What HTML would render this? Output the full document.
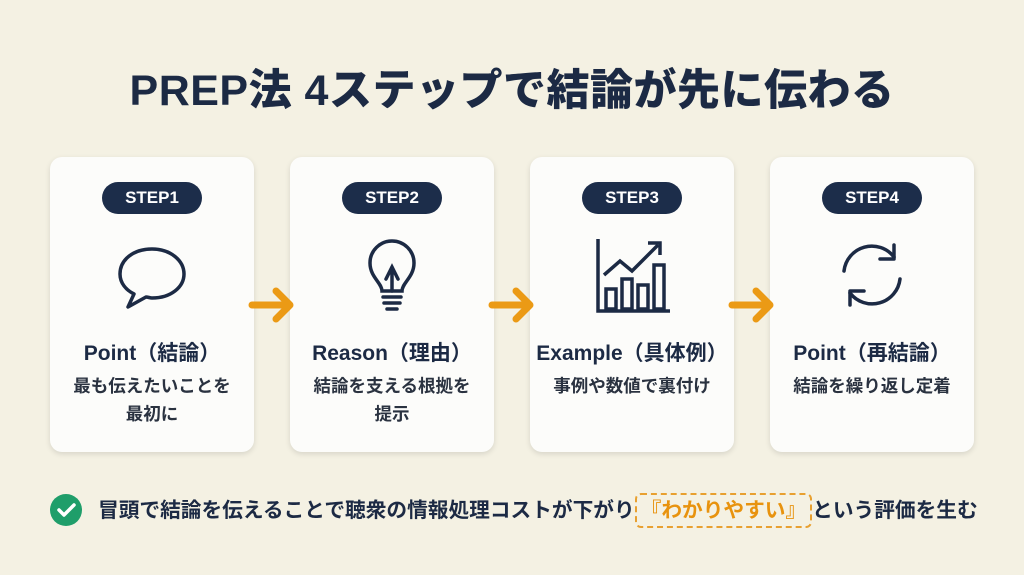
<!DOCTYPE html>
<html><head><meta charset="utf-8"><style>
body{margin:0;width:1024px;height:575px;background:#f4f1e3;font-family:"Liberation Sans","Noto Sans CJK JP",sans-serif;color:#1c2a44;position:relative;overflow:hidden}
.t{position:absolute;top:56px;left:0;width:1024px;text-align:center;font-size:43px;font-weight:900;letter-spacing:0.5px}
.card{position:absolute;top:157px;width:204px;height:295px;background:#fcfcfa;border-radius:12px;box-shadow:0 2px 6px rgba(0,0,0,.12)}
.b{position:absolute;top:25px;left:52px;width:100px;height:32px;border-radius:16px;background:#1c2d4a;color:#fff;font-weight:700;font-size:17px;line-height:32px;text-align:center}
.ic{position:absolute;top:78px;left:62px;width:80px;height:80px}
.h{position:absolute;top:180px;left:0;width:204px;text-align:center;font-size:21px;font-weight:700;white-space:nowrap}
.d{position:absolute;top:215px;left:0;width:204px;text-align:center;font-size:17.5px;font-weight:700;line-height:28px;color:#2a3240;white-space:nowrap}
.ar{position:absolute;top:285px;width:50px;height:40px}
.bot{position:absolute;top:493px;left:98px;font-size:20.7px;font-weight:700;white-space:nowrap}
.hl{color:#e8930f;border:2px dashed #e8a030;border-radius:6px;padding:4px 4px}
</style></head><body>
<div class="t">PREP法 4ステップで結論が先に伝わる</div>

<div class="card" style="left:50px"><div class="b">STEP1</div>
<svg class="ic" viewBox="0 0 80 80"><path d="M40 14C21 14 8 25 8 39c0 9 6 16 14 20l-6 13 18-10c2 0 4 1 6 1 19 0 32-11 32-24S59 14 40 14z" fill="none" stroke="#1c2a44" stroke-width="3.5" stroke-linejoin="round"/></svg>
<div class="h">Point（結論）</div><div class="d">最も伝えたいことを<br>最初に</div></div>

<div class="card" style="left:290px"><div class="b">STEP2</div>
<svg class="ic" viewBox="0 0 80 80"><path d="M30 56c0-8-12-14-12-28a22 22 0 0144 0c0 14-12 20-12 28z" fill="none" stroke="#1c2a44" stroke-width="3.5"/><path d="M31 62h18M32 68h16M35 74h10M34 44l6-12 6 12M40 32v24" fill="none" stroke="#1c2a44" stroke-width="3.5" stroke-linecap="round"/></svg>
<div class="h">Reason（理由）</div><div class="d">結論を支える根拠を<br>提示</div></div>

<div class="card" style="left:530px"><div class="b">STEP3</div>
<svg class="ic" viewBox="0 0 80 80"><path d="M6 4v72h72" fill="none" stroke="#1c2a44" stroke-width="3.5"/><g fill="none" stroke="#1c2a44" stroke-width="3.5"><rect x="14" y="54" width="10" height="20"/><rect x="30" y="44" width="10" height="30"/><rect x="46" y="50" width="10" height="24"/><rect x="62" y="30" width="10" height="44"/><path d="M12 40l16-14 12 10 26-26M56 8h12v12"/></g></svg>
<div class="h">Example（具体例）</div><div class="d">事例や数値で裏付け</div></div>

<div class="card" style="left:770px"><div class="b">STEP4</div>
<svg class="ic" viewBox="0 0 80 80"><g fill="none" stroke="#1c2a44" stroke-width="3.5" stroke-linecap="round" stroke-linejoin="round"><path d="M12 36A28 28 0 0162 22"/><path d="M62 10v14H48"/><path d="M68 44A28 28 0 0118 58"/><path d="M18 70V56h14"/></g></svg>
<div class="h">Point（再結論）</div><div class="d">結論を繰り返し定着</div></div>

<svg class="ar" style="left:248px" viewBox="0 0 50 40"><path d="M4 20h38M28 6l14 14-14 14" fill="none" stroke="#eb9a15" stroke-width="7" stroke-linecap="round" stroke-linejoin="round"/></svg>
<svg class="ar" style="left:488px" viewBox="0 0 50 40"><path d="M4 20h38M28 6l14 14-14 14" fill="none" stroke="#eb9a15" stroke-width="7" stroke-linecap="round" stroke-linejoin="round"/></svg>
<svg class="ar" style="left:728px" viewBox="0 0 50 40"><path d="M4 20h38M28 6l14 14-14 14" fill="none" stroke="#eb9a15" stroke-width="7" stroke-linecap="round" stroke-linejoin="round"/></svg>

<svg style="position:absolute;left:50px;top:494px" width="32" height="32" viewBox="0 0 32 32"><circle cx="16" cy="16" r="16" fill="#1f9e6a"/><path d="M9 16l5 5 10-10" fill="none" stroke="#fff" stroke-width="3.5" stroke-linecap="round" stroke-linejoin="round"/></svg>
<div class="bot">冒頭で結論を伝えることで聴衆の情報処理コストが下がり<span class="hl">『わかりやすい』</span>という評価を生む</div>
</body></html>
